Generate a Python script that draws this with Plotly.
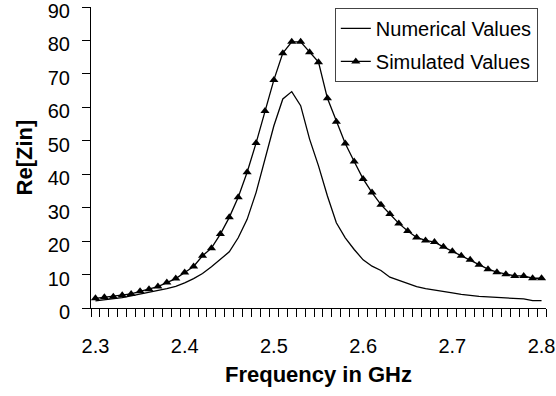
import plotly.graph_objects as go

freq = [round(2.30 + 0.01 * i, 2) for i in range(51)]

numerical = [2.1, 2.4, 2.7, 3.1, 3.6, 4.1, 4.6, 5.2, 5.8, 6.5,
             7.5, 8.8, 10.3, 12.3, 14.5, 16.8, 21.0, 26.5, 34.5, 44.5,
             54.5, 62.5, 64.7, 60.5, 50.5, 42.5, 33.5, 25.5, 21.0, 17.5,
             14.4, 12.5, 11.2, 9.2, 8.2, 7.2, 6.4, 5.8, 5.3, 4.9,
             4.5, 4.1, 3.7, 3.5, 3.3, 3.2, 3.0, 2.9, 2.7, 2.2, 2.2]

simulated = [2.9, 3.2, 3.4, 3.8, 4.2, 5.0, 5.6, 6.4, 7.6, 8.8,
             10.6, 12.4, 15.6, 17.9, 22.1, 27.1, 33.1, 40.6, 49.3, 58.9,
             68.2, 76.2, 79.6, 79.6, 76.5, 73.5, 62.7, 55.7, 49.2, 43.8,
             38.6, 34.5, 30.9, 28.1, 25.3, 23.0, 21.1, 20.2, 19.7, 18.3,
             17.0, 15.6, 14.4, 12.9, 11.6, 10.7, 10.1, 9.6, 9.6, 8.9, 8.9]

x_tickvals = [2.3, 2.4, 2.5, 2.6, 2.7, 2.8]
x_ticktext = ["2.3", "2.4", "2.5", "2.6", "2.7", "2.8"]
y_tickvals = [0, 10, 20, 30, 40, 50, 60, 70, 80, 90]

FONT = "Liberation Sans, Arial, sans-serif"

fig = go.Figure()
fig.add_trace(go.Scatter(
    x=freq, y=numerical, mode="lines", name="Numerical Values",
    line=dict(color="black", width=1.3), legendgroup="a"))
fig.add_trace(go.Scatter(
    x=freq, y=simulated, mode="lines+markers", name="Simulated Values",
    line=dict(color="black", width=1.3),
    marker=dict(symbol="triangle-up", size=8, color="black"), legendgroup="b"))

fig.update_layout(
    width=556, height=396,
    margin=dict(l=91, r=10, t=7, b=88),
    plot_bgcolor="white", paper_bgcolor="white",
    font=dict(family=FONT, size=20, color="black"),
    showlegend=True,
    legend=dict(x=0.982, xanchor="right", y=0.997, yanchor="top",
                bordercolor="#444", borderwidth=1, bgcolor="white",
                font=dict(size=20), tracegroupgap=4),
    xaxis=dict(
        range=[2.295, 2.805], showline=True, linecolor="black", linewidth=1,
        showgrid=False, zeroline=False, automargin=False,
        tickvals=x_tickvals, ticktext=x_ticktext, ticks="",
        tickfont=dict(size=20), ticklabelstandoff=20, ticklabeloverflow="allow",
        minor=dict(tick0=2.295, dtick=0.01, ticks="outside", ticklen=8,
                   tickcolor="black", tickwidth=1, showgrid=False),
        title=dict(text="<b>Frequency in GHz</b>", font=dict(size=22), standoff=10),
    ),
    yaxis=dict(
        range=[0, 90], showline=True, linecolor="black", linewidth=1,
        showgrid=False, zeroline=False, automargin=False,
        tickvals=y_tickvals, ticks="outside", ticklen=8, tickcolor="black",
        tickfont=dict(size=20), ticklabelstandoff=8, ticklabelshift=4,
        ticklabeloverflow="allow",
        title=dict(text="<b>Re[Zin]</b>", font=dict(size=22), standoff=9),
    ),
)

fig.write_html("out.html")
